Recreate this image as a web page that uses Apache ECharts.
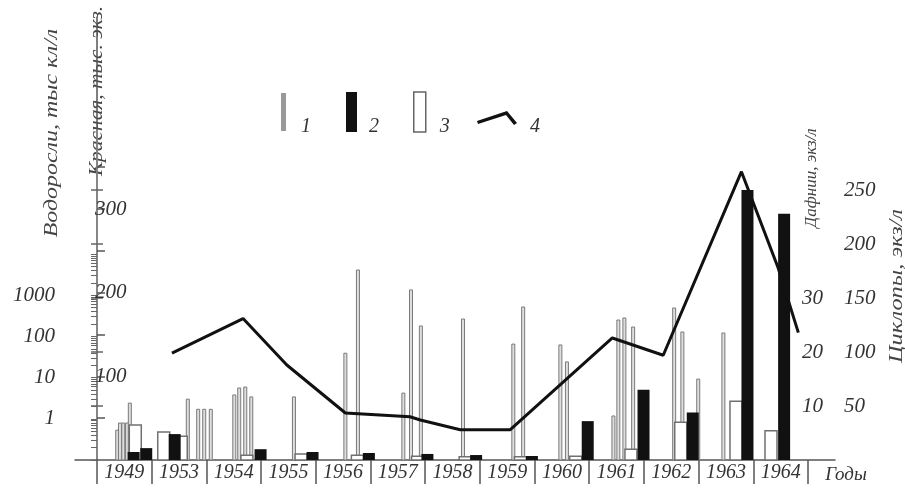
<!DOCTYPE html>
<html>
<head>
<meta charset="utf-8">
<script src="https://cdn.jsdelivr.net/npm/echarts@6/dist/echarts.min.js"></script>
<style>
  html, body { margin: 0; padding: 0; background: #fff; }
  #chart { width: 905px; height: 489px; }
</style>
</head>
<body>
<div id="chart"></div>
<script>
// годы наблюдений (одна ячейка на год)
var years = ['1949', '1953', '1954', '1955', '1956', '1957', '1958', '1959', '1960', '1961', '1962', '1963', '1964'];

// положение внутри ряда лет: индекс года + доля ячейки
// 1 - водоросли, тыс кл/л (лог. шкала)
var algae = [
  [0.37, 0.53], [0.42, 0.79], [0.48, 0.79], [0.55, 0.79], [0.60, 2.4],   // 1949
  [1.66, 3.0], [1.85, 1.7], [1.96, 1.7], [2.08, 1.7],                    // 1953
  [2.51, 3.8], [2.60, 5.6], [2.71, 5.9], [2.82, 3.4],                    // 1954
  [3.60, 3.4],                                                           // 1955
  [4.54, 39], [4.77, 4090],                                              // 1956
  [5.60, 4.2], [5.74, 1340], [5.92, 179],                                // 1957
  [6.69, 264],                                                           // 1958
  [7.61, 65], [7.79, 518],                                               // 1959
  [8.47, 62], [8.59, 24],                                                // 1960
  [9.44, 1.17], [9.53, 250], [9.64, 280], [9.80, 169],                   // 1961
  [10.55, 489], [10.70, 128], [10.99, 9.2],                              // 1962
  [11.45, 121], [11.70, 0.4]                                             // 1963
];
// 2 - дафнии, экз/л
var daphnia = [
  [0.67, 7.4], [0.90, 11], [1.42, 24], [2.99, 10], [3.94, 7.4], [4.97, 6.5],
  [6.04, 5.6], [6.93, 4.6], [7.95, 3.7], [8.97, 36], [9.99, 65], [10.89, 44],
  [11.89, 250], [12.56, 228]
];
// 3 - циклопы, экз/л
var cyclops = [
  [0.70, 6.5], [1.22, 5.2], [1.54, 4.4], [2.74, 0.9], [3.73, 1.1], [4.76, 0.9],
  [5.86, 0.7], [6.73, 0.6], [7.74, 0.6], [8.75, 0.7], [9.76, 2.0], [10.67, 7.0],
  [11.68, 10.9], [12.32, 5.4]
];
// 4 - кривая (по шкале дафний)
var curve = [
  [1.37, 99], [2.67, 131], [3.47, 88], [4.54, 43.5], [5.72, 40], [5.91, 37],
  [6.64, 28], [7.55, 28], [9.42, 113], [10.35, 97], [11.78, 267], [12.45, 178],
  [12.82, 118]
];

// подписи шкал
var logLabels = [1, 10, 100, 1000];
var redLabels = [100, 200, 300];
var redTicks = [50, 100, 150, 200, 250, 300, 350];
var daphLabels = [50, 100, 150, 200, 250];
var cycLabels = [10, 20, 30];
var cycTicks = [10, 20, 30, 40, 50];

var X_MIN = -0.402, X_MAX = 13.49;
var LOG_MIN = 0.1, LOG_MAX = 10000;
var FONT = 'Liberation Serif';
var INK = '#333';

var logTicks = [];
[0.1, 1, 10, 100, 1000].forEach(function (d) {
  for (var k = 1; k < 10; k++) logTicks.push(+(k * d).toPrecision(3));
});
logTicks.push(10000);

var chart = echarts.init(document.getElementById('chart'));

function hiddenX(gi) {
  return { type: 'value', gridIndex: gi, min: X_MIN, max: X_MAX, show: false };
}

function barItem(width, style, base) {
  return function (params, api) {
    var top = api.coord([api.value(0), api.value(1)]);
    var bottom = api.coord([api.value(0), base]);
    return {
      type: 'rect',
      shape: { x: top[0] - width / 2, y: top[1], width: width, height: bottom[1] - top[1] },
      style: style
    };
  };
}

function axisTitle(text, x, y, size, stretch) {
  return {
    type: 'text', x: x, y: y, rotation: Math.PI / 2, scaleX: stretch,
    style: { text: text, fontSize: size, fontFamily: FONT, fontStyle: 'italic', fill: '#444', align: 'center', verticalAlign: 'middle' }
  };
}

function legendItem(name, extra, left, top, w, h, lh, gap) {
  return {
    data: [Object.assign({ name: name }, extra)], left: left, top: top, padding: 0,
    itemWidth: w, itemHeight: h, selectedMode: false,
    formatter: '\n{name}',
    textStyle: { fontFamily: FONT, fontStyle: 'italic', color: INK, fontSize: 20, lineHeight: lh, padding: [0, 0, 0, gap] }
  };
}

var option = {
  animation: false,
  backgroundColor: '#fff',
  grid: [
    { left: 75, right: 70, top: 17, bottom: 29 },
    { left: 75, right: 70, top: 254, bottom: 29 },
    { left: 75, right: 70, top: 130, bottom: 29 },
    { left: 75, right: 70, top: 130, bottom: 29 },
    { left: 97, right: 97, top: 17, bottom: 29 }
  ],
  xAxis: [
    {
      type: 'value', gridIndex: 0, min: X_MIN, max: X_MAX,
      axisLine: { show: true, lineStyle: { color: '#555', width: 1.5 } },
      axisTick: { show: false }, axisLabel: { show: false }, splitLine: { show: false }
    },
    hiddenX(1), hiddenX(2), hiddenX(3),
    {
      type: 'category', gridIndex: 4, data: years,
      axisLine: { show: false },
      axisTick: { show: true, interval: 0, length: 24, lineStyle: { color: '#555', width: 1.5 } },
      axisLabel: { interval: 0, margin: 3, fontSize: 20, fontFamily: FONT, fontStyle: 'italic', color: INK }
    }
  ],
  yAxis: [
    {
      // Красная, тыс. экз.
      type: 'value', gridIndex: 0, min: 0, max: 529.5,
      axisLine: { show: true, lineStyle: { color: '#555', width: 1.5 } },
      axisTick: { show: true, inside: true, length: 8, customValues: redTicks, lineStyle: { color: '#555', width: 1.5 } },
      axisLabel: { inside: false, margin: -20, align: 'left', customValues: redLabels, fontSize: 21, fontFamily: FONT, fontStyle: 'italic', color: INK },
      splitLine: { show: false }
    },
    {
      // Водоросли, тыс кл/л
      type: 'log', logBase: 10, gridIndex: 1, min: LOG_MIN, max: LOG_MAX,
      axisLine: { show: false },
      axisTick: { show: true, length: 6, customValues: logTicks, lineStyle: { color: '#666', width: 1 } },
      axisLabel: {
        margin: 20, customValues: logLabels, fontSize: 21, fontFamily: FONT, fontStyle: 'italic', color: INK,
        formatter: function (v) { return String(Math.round(v)); }
      },
      splitLine: { show: false }
    },
    {
      // Дафнии, экз/л
      type: 'value', gridIndex: 2, position: 'right', min: 0, max: 305.6,
      axisLine: { show: true, lineStyle: { color: '#888', width: 1.5 } },
      axisTick: { show: true, length: 6, customValues: daphLabels, lineStyle: { color: '#666', width: 1.5 } },
      axisLabel: { margin: 9, customValues: daphLabels, fontSize: 21, fontFamily: FONT, fontStyle: 'italic', color: INK },
      splitLine: { show: false }
    },
    {
      // Циклопы, экз/л
      type: 'value', gridIndex: 3, position: 'right', min: 0, max: 61.12,
      axisLine: { show: false },
      axisTick: { show: true, inside: true, length: 6, customValues: cycTicks, lineStyle: { color: '#666', width: 1.5 } },
      axisLabel: { inside: true, margin: 12, customValues: cycLabels, fontSize: 21, fontFamily: FONT, fontStyle: 'italic', color: INK },
      splitLine: { show: false }
    },
    { type: 'value', gridIndex: 4, show: false }
  ],
  legend: [
    legendItem('1', { icon: 'rect' }, 281, 82, 5, 38, 30, 10),
    legendItem('2', { icon: 'rect' }, 346, 82, 11, 40, 30, 7),
    legendItem('3', { icon: 'rect', itemStyle: { color: '#fff', borderColor: '#666', borderWidth: 1.5 } }, 413, 82, 12, 40, 30, 9),
    legendItem('4', { icon: 'path://M0,10L30,0L40,12L37,14L29,4L1,13Z' }, 477, 99, 40, 14, 18, 8)
  ],
  graphic: [
    axisTitle('Водоросли, тыс кл/л', 52, 133, 18, 1.33),
    axisTitle('Красная, тыс. экз.', 97, 91, 18, 1.19),
    axisTitle('Дафнии, экз/л', 812, 178, 17, 1),
    axisTitle('Циклопы, экз/л', 897, 286, 18, 1.35),
    { type: 'text', x: 846, y: 475,
      style: { text: 'Годы', fontSize: 19, fontFamily: FONT, fontStyle: 'italic', fill: INK, align: 'center', verticalAlign: 'middle' } }
  ],
  series: [
    {
      name: '1', type: 'custom', xAxisIndex: 1, yAxisIndex: 1, z: 2,
      itemStyle: { color: '#999' },
      renderItem: barItem(3, { fill: '#dedede', stroke: '#7a7a7a', lineWidth: 1 }, LOG_MIN),
      data: algae
    },
    {
      name: '3', type: 'custom', xAxisIndex: 3, yAxisIndex: 3, z: 3,
      itemStyle: { color: '#fff' },
      renderItem: barItem(12, { fill: '#fff', stroke: '#707070', lineWidth: 1.5 }, 0),
      data: cyclops
    },
    {
      name: '2', type: 'custom', xAxisIndex: 2, yAxisIndex: 2, z: 4,
      itemStyle: { color: '#111' },
      renderItem: barItem(12, { fill: '#111' }, 0),
      data: daphnia
    },
    {
      name: '4', type: 'line', xAxisIndex: 2, yAxisIndex: 2, z: 5,
      symbol: 'none',
      itemStyle: { color: '#111' },
      lineStyle: { color: '#111', width: 3 },
      data: curve
    }
  ]
};

chart.setOption(option);
</script>
</body>
</html>
